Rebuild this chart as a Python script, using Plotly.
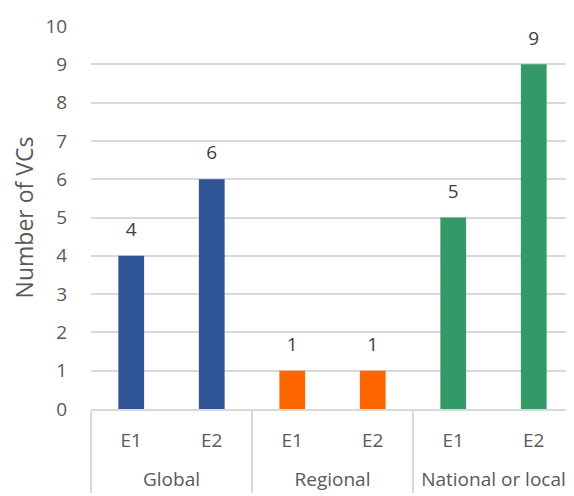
import plotly.graph_objects as go

groups = ["Global", "Global", "Regional", "Regional", "National or local", "National or local"]
editions = ["E1", "E2", "E1", "E2", "E1", "E2"]
values = [4, 6, 1, 1, 5, 9]
colors = ["#2F5597", "#2F5597", "#FF6600", "#FF6600", "#339966", "#339966"]
y_ticks = list(range(0, 11))

FONT = "'Open Sans', Lato, sans-serif"
label_offset = 0.64  # data labels sit above bars

# outer-level labels pushed one line lower, as in the reference
group_labels = ["<br>" + g for g in groups]

fig = go.Figure()
fig.add_trace(go.Bar(
    x=[group_labels, editions], y=values,
    marker=dict(color=colors, line=dict(width=0)),
    showlegend=False, hoverinfo="skip",
))
fig.add_trace(go.Scatter(
    x=[group_labels, editions], y=[v + label_offset for v in values],
    mode="text", text=[str(v) for v in values],
    textposition="middle center",
    textfont=dict(family=FONT, size=19, color="#404040"),
    showlegend=False, hoverinfo="skip", cliponaxis=False,
))

# page body has an 8px margin, so the figure is sized to the remaining area
fig.update_layout(
    width=566, height=488,
    margin=dict(l=83, r=0, t=18, b=87),
    paper_bgcolor="white", plot_bgcolor="white",
    bargap=0.68,
    font=dict(family=FONT, size=19, color="#595959"),
)
fig.update_yaxes(
    automargin=False,
    range=[0, 10], tickvals=y_ticks, ticktext=[str(t) for t in y_ticks],
    showgrid=True, gridcolor="#D9D9D9", gridwidth=1.5,
    zeroline=False, showline=False,
    ticks="outside", ticklen=19, tickcolor="rgba(0,0,0,0)",
    tickfont=dict(family=FONT, size=19, color="#595959"),
    title=dict(text="Number of VCs", font=dict(family=FONT, size=23, color="#595959"), standoff=11),
)
fig.update_xaxes(
    automargin=False,
    type="multicategory",
    showline=True, linecolor="#D9D9D9", linewidth=1.5,
    showdividers=True, dividercolor="#D9D9D9", dividerwidth=1.5,
    tickfont=dict(family=FONT, size=19, color="#595959"),
    ticklabelstandoff=13,
)

fig.write_html("out.html")
